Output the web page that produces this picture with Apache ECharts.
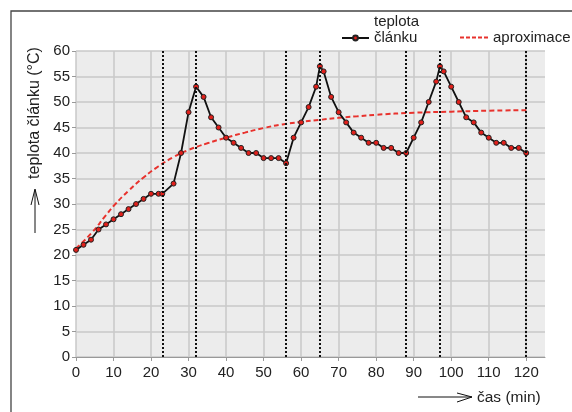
<!DOCTYPE html>
<html>
<head>
<meta charset="utf-8">
<script src="https://cdn.jsdelivr.net/npm/echarts@6/dist/echarts.min.js"></script>
<style>html,body{margin:0;padding:0;background:#fff}#c{width:572px;height:412px}</style>
</head>
<body>
<div id="c"></div>
<script>
// measured temperature (time in min, value in °C)
const timeMin = [0,2,4,6,8,10,12,14,16,18,20,22,23,26,28,30,32,34,36,38,40,42,44,46,48,50,52,54,56,58,60,62,64,65,66,68,70,72,74,76,78,80,82,84,86,88,90,92,94,96,97,98,100,102,104,106,108,110,112,114,116,118,120];
const tempC   = [21,22,23,25,26,27,28,29,30,31,32,32,32,34,40,48,53,51,47,45,43,42,41,40,40,39,39,39,38,43,46,49,53,57,56,51,48,46,44,43,42,42,41,41,40,40,43,46,50,54,57,56,53,50,47,46,44,43,42,42,41,41,40];
// approximation curve
const aproxT = [0,4,8,10,14,18,22,26,30,35,40,45,50,55,60,65,70,75,80,90,100,110,120];
const aproxV = [21.3,24.2,27.8,29.6,32.6,35.2,37.4,39.2,40.6,41.9,43.0,44.0,44.9,45.6,46.1,46.5,46.9,47.2,47.5,47.9,48.1,48.3,48.4];
// switching times (dotted lines)
const switchTimes = [23,32,56,65,88,97,120];
// phase labels
const nabLabelX = [12.5,44.5,76.5,109];
const nabLabelY = [12,12,12,12];
const vybLabelX = [28,60.5,93.3];
const vybLabelY = [15,15,15];
const xTicks = [0,10,20,30,40,50,60,70,80,90,100,110,120];

const FONT = '"Liberation Sans", Arial, Helvetica, sans-serif';
const chart = echarts.init(document.getElementById('c'), null, {renderer:'canvas'});
const dashIcon = 'path://M0,0h4v2h-4z M6,0h4v2h-4z M12,0h4v2h-4z M18,0h4v2h-4z M24,0h4v2h-4z';
const option = {
  animation: false,
  backgroundColor: '#fff',
  textStyle: {fontFamily: FONT},
  grid: {left: 76, right: 27, top: 51, bottom: 55, show: true, backgroundColor: '#ececec', borderWidth: 0},
  legend: [
    {data: ['teplota článku'], left: 341, top: 14, padding: 0, itemWidth: 27, itemHeight: 6, itemGap: 6,
     formatter: () => 'teplota\nčlánku\n ',
     textStyle: {fontFamily: FONT, fontSize: 15, color: '#222', lineHeight: 16}},
    {data: [{name: 'aproximace', icon: dashIcon}], left: 460, top: 30, padding: 0, itemWidth: 28, itemHeight: 2, itemGap: 4,
     textStyle: {fontFamily: FONT, fontSize: 15, color: '#222'}}
  ],
  xAxis: {
    type: 'value', min: 0, max: 125, interval: 10,
    axisLine: {show: true, lineStyle: {color: '#999', width: 1}},
    axisTick: {show: true, length: 4, lineStyle: {color: '#999'}},
    axisLabel: {fontFamily: FONT, fontSize: 15, color: '#222', margin: 8, showMaxLabel: false,
      formatter: v => xTicks.indexOf(v) >= 0 ? String(v) : ''},
    splitLine: {show: true, showMaxLine: false, lineStyle: {color: '#c8c8c8', width: 1.5}}
  },
  yAxis: {
    type: 'value', min: 0, max: 60, interval: 5,
    axisLine: {show: false},
    axisTick: {show: true, length: 4, lineStyle: {color: '#999'}},
    axisLabel: {fontFamily: FONT, fontSize: 15, color: '#222', margin: 6},
    splitLine: {show: true, lineStyle: {color: '#c8c8c8', width: 1.5}}
  },
  graphic: [
    {type: 'rect', z: -10, shape: {x: 11, y: 11, width: 620, height: 460}, style: {fill: 'none', stroke: '#444', lineWidth: 1.3}},
    {type: 'text', x: 35, y: 113, rotation: Math.PI/2, style: {text: 'teplota článku (°C)', font: '16px ' + FONT, fill: '#222', align: 'center', verticalAlign: 'middle'}},
    {type: 'polyline', shape: {points: [[35,233],[35,190]]}, style: {stroke: '#111', lineWidth: 1, fill: 'none'}},
    {type: 'polyline', shape: {points: [[31,205],[35,189],[39,205]]}, style: {stroke: '#111', lineWidth: 1, fill: 'none'}},
    {type: 'polyline', shape: {points: [[418,397],[472,397]]}, style: {stroke: '#111', lineWidth: 1, fill: 'none'}},
    {type: 'polyline', shape: {points: [[457,393],[472,397],[457,402]]}, style: {stroke: '#111', lineWidth: 1, fill: 'none'}},
    {type: 'text', x: 477, y: 398, style: {text: 'čas (min)', font: '15.5px ' + FONT, fill: '#222', align: 'left', verticalAlign: 'middle'}}
  ],
  series: [
    {
      name: 'aproximace', type: 'line', smooth: true, symbol: 'none', z: 3,
      data: aproxT.map((t, i) => [t, aproxV[i]]),
      lineStyle: {color: '#e8322d', width: 2, type: [5, 3]},
      itemStyle: {color: '#e8322d'}
    },
    {
      name: 'teplota článku', type: 'line', symbol: 'circle', symbolSize: 5, z: 4,
      data: timeMin.map((t, i) => [t, tempC[i]]),
      lineStyle: {color: '#111', width: 1.8},
      itemStyle: {color: '#e0201b', borderColor: '#222', borderWidth: 1},
      markLine: {silent: true, symbol: ['none','none'], label: {show: false},
        lineStyle: {color: '#111', type: 'dotted', width: 2},
        emphasis: {disabled: true},
        data: switchTimes.map(x => ({xAxis: x}))}
    },
    {
      name: 'nab', type: 'scatter', symbolSize: 1, itemStyle: {opacity: 0}, z: 5, silent: true,
      data: nabLabelX.map((x, i) => ({value: [x, nabLabelY[i]], name: 'nab 2C'})),
      label: {show: true, position: 'inside', formatter: p => p.name, fontFamily: FONT, fontSize: 16, color: '#222'}
    },
    {
      name: 'vyb', type: 'scatter', symbolSize: 1, itemStyle: {opacity: 0}, z: 5, silent: true,
      data: vybLabelX.map((x, i) => ({value: [x, vybLabelY[i]], name: 'vyb 5C'})),
      label: {show: true, position: 'inside', rotate: 90, formatter: p => p.name, fontFamily: FONT, fontSize: 16, color: '#222'}
    }
  ]
};
chart.setOption(option);
</script>
</body>
</html>
